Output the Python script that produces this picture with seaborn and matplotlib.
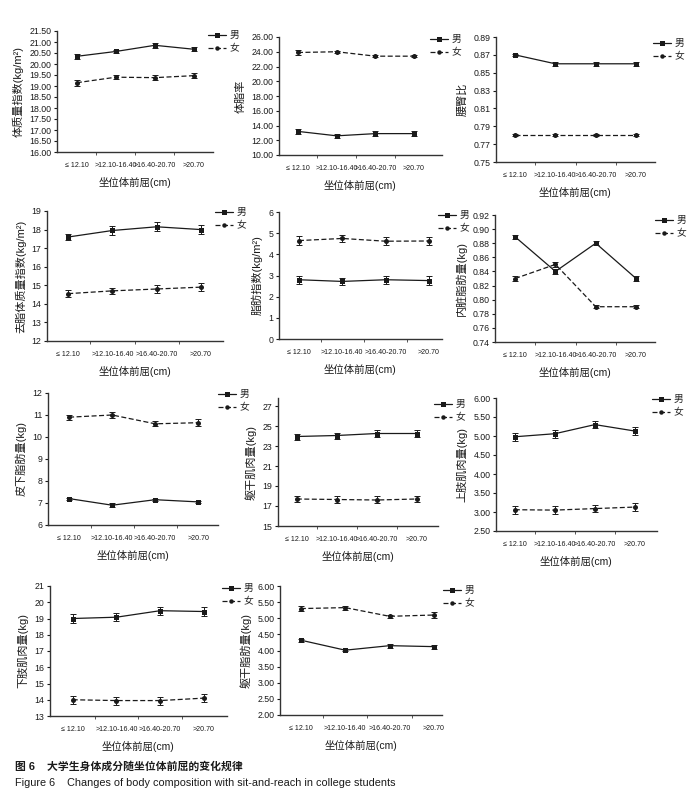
import matplotlib
matplotlib.use("Agg")
import matplotlib.pyplot as plt
from matplotlib.lines import Line2D
from matplotlib.ticker import FormatStrFormatter
import seaborn as sns
import numpy as np
import pandas as pd

# --- values (means and error bar half-widths) ---
categories = ["≤ 12.10", ">12.10-16.40", ">16.40-20.70", ">20.70"]
sexes = ["男", "女"]
x_title = "坐位体前屈(cm)"

bmi_m = [20.35, 20.57, 20.85, 20.67]
bmi_m_err = [0.10, 0.08, 0.10, 0.10]
bmi_f = [19.15, 19.40, 19.38, 19.47]
bmi_f_err = [0.13, 0.08, 0.12, 0.10]

fat_pct_m = [13.2, 12.6, 12.9, 12.9]
fat_pct_m_err = [0.3, 0.3, 0.3, 0.3]
fat_pct_f = [23.9, 24.0, 23.4, 23.4]
fat_pct_f_err = [0.3, 0.15, 0.15, 0.15]

whr_m = [0.870, 0.860, 0.860, 0.860]
whr_m_err = [0.001, 0.002, 0.002, 0.002]
whr_f = [0.780, 0.780, 0.780, 0.780]
whr_f_err = [0.001, 0.001, 0.001, 0.001]

ffmi_m = [17.6, 17.95, 18.15, 18.0]
ffmi_m_err = [0.18, 0.22, 0.25, 0.25]
ffmi_f = [14.55, 14.7, 14.8, 14.9]
ffmi_f_err = [0.2, 0.15, 0.2, 0.2]

fmi_m = [2.80, 2.72, 2.80, 2.76]
fmi_m_err = [0.18, 0.18, 0.2, 0.2]
fmi_f = [4.65, 4.75, 4.62, 4.63]
fmi_f_err = [0.2, 0.18, 0.18, 0.2]

visc_m = [0.889, 0.840, 0.880, 0.830]
visc_m_err = [0.003, 0.003, 0.003, 0.003]
visc_f = [0.830, 0.850, 0.790, 0.790]
visc_f_err = [0.003, 0.004, 0.002, 0.002]

subq_m = [7.2, 6.9, 7.15, 7.05]
subq_m_err = [0.05, 0.1, 0.05, 0.05]
subq_f = [10.9, 11.0, 10.6, 10.65]
subq_f_err = [0.12, 0.12, 0.12, 0.15]

trunk_mus_m = [23.95, 24.05, 24.25, 24.25]
trunk_mus_m_err = [0.3, 0.3, 0.35, 0.35]
trunk_mus_f = [17.7, 17.65, 17.6, 17.7]
trunk_mus_f_err = [0.3, 0.3, 0.35, 0.3]

arm_mus_m = [4.98, 5.06, 5.30, 5.13]
arm_mus_m_err = [0.1, 0.1, 0.1, 0.1]
arm_mus_f = [3.06, 3.05, 3.09, 3.13]
arm_mus_f_err = [0.1, 0.1, 0.1, 0.1]

leg_mus_m = [19.0, 19.08, 19.48, 19.43]
leg_mus_m_err = [0.25, 0.25, 0.25, 0.25]
leg_mus_f = [14.0, 13.95, 13.95, 14.1]
leg_mus_f_err = [0.25, 0.25, 0.25, 0.25]

trunk_fat_m = [4.32, 4.01, 4.15, 4.12]
trunk_fat_m_err = [0.05, 0.04, 0.06, 0.06]
trunk_fat_f = [5.30, 5.33, 5.06, 5.10]
trunk_fat_f_err = [0.07, 0.06, 0.05, 0.08]

ylabels = ["体质量指数(kg/m²)", "体脂率", "腰臀比",
           "去脂体质量指数(kg/m²)", "脂肪指数(kg/m²)", "内脏脂肪量(kg)",
           "皮下脂肪量(kg)", "躯干肌肉量(kg)", "上肢肌肉量(kg)",
           "下肢肌肉量(kg)", "躯干脂肪量(kg)"]

W, H = 696, 809

sns.set_style("ticks")
plt.rcParams["font.family"] = ["Liberation Sans", "Noto Sans CJK SC", "DejaVu Sans"]
plt.rcParams["axes.unicode_minus"] = False

# (data, ylim, tick step, tick format, pixel box x0, top, x1, bottom, xlim, legend x, legend y)
panels = [
    (bmi_m, bmi_m_err, bmi_f, bmi_f_err, (16, 21.5), 0.5, "%.2f", (57, 31, 213, 152), (-0.51, 3.49), (208, 36)),
    (fat_pct_m, fat_pct_m_err, fat_pct_f, fat_pct_f_err, (10, 26), 2, "%.2f", (279, 37, 442, 155), (-0.49, 3.72), (430, 40)),
    (whr_m, whr_m_err, whr_f, whr_f_err, (0.75, 0.89), 0.02, "%.2f", (496, 37, 655, 162), (-0.47, 3.47), (653, 44)),
    (ffmi_m, ffmi_m_err, ffmi_f, ffmi_f_err, (12, 19), 1, "%d", (47, 211, 223, 341), (-0.48, 3.5), (215, 213)),
    (fmi_m, fmi_m_err, fmi_f, fmi_f_err, (0, 6), 1, "%d", (279, 212, 442, 339), (-0.46, 3.3), (438, 216)),
    (visc_m, visc_m_err, visc_f, visc_f_err, (0.74, 0.92), 0.02, "%.2f", (495, 215, 655, 342), (-0.5, 3.47), (655, 221)),
    (subq_m, subq_m_err, subq_f, subq_f_err, (6, 12), 1, "%d", (48, 393, 218, 525), (-0.49, 3.46), (218, 395)),
    (trunk_mus_m, trunk_mus_m_err, trunk_mus_f, trunk_mus_f_err, (15, 27.8), 2, "%d", (278, 398, 438, 526), (-0.47, 3.53), (434, 405)),
    (arm_mus_m, arm_mus_m_err, arm_mus_f, arm_mus_f_err, (2.5, 6.0), 0.5, "%.2f", (496, 398, 657, 531), (-0.47, 3.55), (652, 400)),
    (leg_mus_m, leg_mus_m_err, leg_mus_f, leg_mus_f_err, (13, 21), 1, "%d", (50, 586, 227, 716), (-0.52, 3.53), (222, 589)),
    (trunk_fat_m, trunk_fat_m_err, trunk_fat_f, trunk_fat_f_err, (2.0, 6.0), 0.5, "%.2f", (280, 586, 442, 715), (-0.47, 3.18), (443, 591)),
]

ink = "#1a1a1a"
fig = plt.figure(figsize=(W / 100, H / 100), dpi=100)
x_pos = np.arange(len(categories))

for i, (m, m_err, f, f_err, ylim, step, fmt, box, xlim, leg) in enumerate(panels):
    x0, yt, x1, yb = box
    ax = fig.add_axes([x0 / W, 1 - yb / H, (x1 - x0) / W, (yb - yt) / H])
    df = pd.DataFrame({
        "pos": list(x_pos) * 2,
        "value": m + f,
        "sex": [sexes[0]] * 4 + [sexes[1]] * 4,
    })
    sns.lineplot(data=df, x="pos", y="value", hue="sex", style="sex",
                 palette={"男": ink, "女": ink},
                 markers={"男": "s", "女": "o"},
                 dashes={"男": "", "女": (4, 2)},
                 markersize=3.6, markeredgewidth=0, linewidth=0.9,
                 legend=False, ax=ax)
    ax.errorbar(x_pos, m, yerr=m_err, fmt="none", ecolor=ink, elinewidth=0.7, capsize=2, capthick=0.7)
    ax.errorbar(x_pos, f, yerr=f_err, fmt="none", ecolor=ink, elinewidth=0.7, capsize=2, capthick=0.7)

    ax.set_xlim(*xlim)
    ax.set_ylim(*ylim)
    ax.set_yticks(np.arange(ylim[0], ylim[1] + step * 0.01, step))
    ax.yaxis.set_major_formatter(FormatStrFormatter(fmt))
    ax.set_xticks(x_pos)
    ax.set_xticklabels(categories)
    ax.set_xticks([0.5, 1.5, 2.5], minor=True)
    ax.tick_params(axis="x", which="major", length=0, pad=7, labelsize=5.1, colors=ink)
    ax.tick_params(axis="x", which="minor", length=2.5, width=0.7, color="#555555")
    ax.tick_params(axis="y", length=2.5, width=0.8, pad=1.5, labelsize=6.3, colors=ink)
    sns.despine(ax=ax)
    for side in ("left", "bottom"):
        ax.spines[side].set_linewidth(1.0)
        ax.spines[side].set_color("#333333")
    ax.set_xlabel(x_title, fontsize=7.5, color=ink, labelpad=6)
    ax.set_ylabel(ylabels[i], fontsize=8, color=ink, labelpad=4)
    ax.grid(False)

    handles = [
        Line2D([], [], color=ink, lw=0.9, marker="s", markersize=3.6, markeredgewidth=0),
        Line2D([], [], color=ink, lw=0.9, ls=(0, (4, 2)), marker="o", markersize=3.2, markeredgewidth=0),
    ]
    ax.legend(handles, sexes, loc="upper left", bbox_to_anchor=(leg[0] / W, 1 - (leg[1] - 6) / H),
              bbox_transform=fig.transFigure, frameon=False, fontsize=7, borderpad=0,
              borderaxespad=0, handlelength=1.9, handletextpad=0.3, labelspacing=0.35)

fig.text(15 / W, 1 - 766 / H, "图 6    大学生身体成分随坐位体前屈的变化规律", fontsize=7.8,
         fontweight="bold", color=ink, va="center", ha="left")
fig.text(15 / W, 1 - 783 / H, "Figure 6    Changes of body composition with sit-and-reach in college students",
         fontsize=7.8, color=ink, va="center", ha="left")

fig.savefig("out.png", dpi=100, facecolor="white")
